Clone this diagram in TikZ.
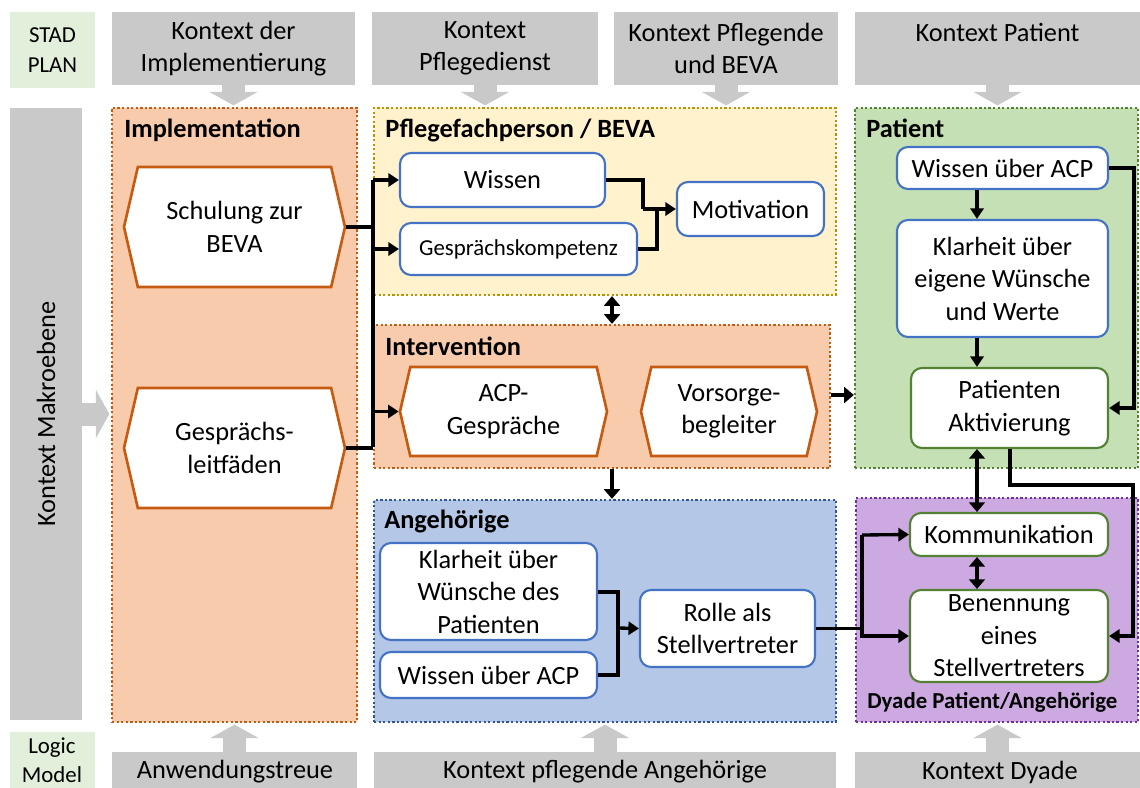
\documentclass[tikz,border=0pt]{standalone}
\usepackage{fontspec}
\setmainfont{Carlito}
\usepackage{xcolor}
\definecolor{GrayBox}{HTML}{C9C9C9}
\definecolor{StadGreen}{HTML}{E2EFDA}
\definecolor{ImplFill}{HTML}{F8CBAD}
\definecolor{ImplLine}{HTML}{C55A11}
\definecolor{PflegeFill}{HTML}{FFF2CC}
\definecolor{PflegeLine}{HTML}{BF9000}
\definecolor{PatFill}{HTML}{C5E0B4}
\definecolor{PatLine}{HTML}{548235}
\definecolor{AngFill}{HTML}{B4C7E7}
\definecolor{AngLine}{HTML}{2F5597}
\definecolor{DyFill}{HTML}{CDA9E2}
\definecolor{DyLine}{HTML}{7030A0}
\definecolor{BoxBlue}{HTML}{4472C4}
\usetikzlibrary{arrows.meta,fit,shapes.symbols}
\tikzset{>=latex}
\tikzset{wh/.style 2 args={minimum width=#1*0.02cm,minimum height=#2*0.02cm}}

\begin{document}
\begin{tikzpicture}[x=0.02cm,y=-0.02cm,
	txt/.style={font=\fontsize{15}{18.5}\selectfont,align=center},
	graybox/.style={fill=GrayBox,inner sep=0,txt},
	grp/.style={draw=#1Line,fill=#1Fill,line width=1.3pt,dash pattern=on 1.3pt off 1.3pt,inner sep=0},
	grptitle/.style={font=\fontsize{15}{17}\selectfont\bfseries,anchor=base west,inner sep=0},
	bbox/.style={draw=BoxBlue,fill=white,line width=1.2pt,rounded corners=0.22cm,inner sep=0,txt},
	gbox/.style={bbox,draw=PatLine},
	hexa/.style={shape=signal,signal to=west and east,signal pointer angle=154,draw=ImplLine,fill=white,line width=1.5pt,inner sep=0,txt},
	line/.style={line width=1.9pt},
	conn/.style={line,-{Triangle[length=6pt,width=7.5pt]}},
	dbl/.style={line width=2.6pt,{Triangle[length=5.5pt,width=9pt]}-{Triangle[length=5.5pt,width=9pt]}},
	bigarr/.style={line width=2.6pt,-{Triangle[length=5.5pt,width=9pt]}},
	grayarr/.style={draw=GrayBox,line width=0.46cm,shorten >=0.03cm,-{Triangle[length=0.27cm,width=0.96cm]}}]
	
	\useasboundingbox (0,0) rectangle (1140,788);
	
	%% RANDSPALTE
	\node[fill=StadGreen,inner sep=0,wh={85}{76},font=\fontsize{13}{17}\selectfont,align=center] (stad) at (52.5,50) {STAD\\PLAN};
	\node[graybox,fit={(10,108)(82,720)}] (makro) {};
	\node[txt,rotate=90] (tmakro) at (makro.center) {Kontext Makroebene};
	\node[fill=StadGreen,inner sep=0,fit={(10,732)(95,800)}] (logic) {};
	\node[font=\fontsize{13}{16.5}\selectfont,align=center] (tlogic) at (52,760) {Logic\\Model};
	
	%% KONTEXT OBEN
	\node[graybox,wh={243}{73}] (kimpl) at (233.5,48.5) {Kontext der\\Implementierung};
	\node[graybox,wh={226}{73}] (kpflege) at (485,48.5) {Kontext\\Pflegedienst};
	\node[graybox,wh={224}{73}] (kbeva) at (726,48.5) {Kontext Pflegende\\und BEVA};
	\node[graybox,wh={285}{73}] (kpat) at (997.5,48.5) {Kontext Patient\\\mbox{}};
	
	%% KONTEXT UNTEN
	\node[graybox,fit={(112,752)(357,800)}] (kanw) {};
	\node[graybox,fit={(374,752)(836,800)}] (kang) {};
	\node[graybox,fit={(855,752)(1140,800)}] (kdy) {};
	\node[txt] (tanw) at (235,772) {Anwendungstreue};
	\node[txt] (tang) at (605,772) {Kontext pflegende Angehörige};
	\node[txt] (tdy) at (1000,772) {Kontext Dyade};
	
	%% GRUPPEN
	\node[grp=Impl,fit={(112,108)(357,722)}] (impl) {};
	\node[grp=Pflege,fit={(374,108)(836,295)}] (pflege) {};
	\node[grp=Impl,fit={(374,325)(830,468)}] (interv) {};
	\node[grp=Ang,fit={(374,500)(836,722)}] (angeh) {};
	\node[grp=Pat,fit={(855,108)(1138,468)}] (patient) {};
	\node[grp=Dy,fit={(856,498)(1138,722)}] (dyade) {};
	
	\node[grptitle] (timpl) at (124,137) {Implementation};
	\node[grptitle] (tpflege) at (385,137) {Pflegefachperson / BEVA};
	\node[grptitle] (tinterv) at (385,355) {Intervention};
	\node[grptitle] (tangeh) at (384,528) {Angehörige};
	\node[grptitle] (tpatient) at (866,137) {Patient};
	\node[grptitle,font=\fontsize{13}{15}\selectfont\bfseries] (tdyade) at (867,708) {Dyade Patient/Angehörige};
	
	%% KNOTEN
	\node[hexa,wh={221}{120}] (schulung) at (234.5,227) {Schulung zur\\BEVA};
	\node[hexa,wh={221}{120}] (leitfaden) at (234.5,448) {Gesprächs-\\leitfäden};
	
	\node[bbox,wh={205}{54}] (wissen) at (502.5,180) {Wissen};
	\node[bbox,wh={237}{52},font=\fontsize{13}{16}\selectfont] (komp) at (518.5,249) {Gesprächskompetenz};
	\node[bbox,wh={147}{54}] (motiv) at (750.5,209) {Motivation};
	
	\node[hexa,wh={207}{89}] (acp) at (503.5,411.5) {ACP-\\Gespräche};
	\node[hexa,wh={176}{89}] (vorsorge) at (729,411.5) {Vorsorge-\\begleiter};
	
	\node[bbox,wh={217}{97}] (klarA) at (488.5,591.5) {Klarheit über\\Wünsche des\\Patienten};
	\node[bbox,wh={217}{46}] (wissenA) at (488.5,675) {Wissen über ACP};
	\node[bbox,wh={175}{77}] (rolle) at (727.5,628.5) {Rolle als\\Stellvertreter};
	
	\node[bbox,wh={211}{42}] (wissenP) at (1002.5,168) {Wissen über ACP};
	\node[bbox,wh={211}{117}] (klarP) at (1002.5,278.5) {Klarheit über\\eigene Wünsche\\und Werte};
	\node[gbox,wh={197}{80}] (aktiv) at (1009.5,408) {Patienten\\Aktivierung};
	
	\node[gbox,wh={198}{43}] (komm) at (1009,534.5) {Kommunikation};
	\node[gbox,wh={198}{92}] (benenn) at (1009,636) {Benennung\\eines\\Stellvertreters};
	
	%% HILFSKOORDINATEN
	\coordinate (cMid) at (612,0);
	\coordinate (cP) at (977,0);
	\coordinate (rowI) at (0,395);
	\coordinate (busT) at (373,180);
	\coordinate (busB) at (373,447);
	\coordinate (mj1) at (643,209);
	\coordinate (mj2) at (657,209);
	\coordinate (aj) at (618,628);
	\coordinate (dj) at (862,535);
	
	%% GRAUE PFEILE
	\draw[grayarr] (kimpl.south) -- (kimpl.south |- impl.north);
	\draw[grayarr] (kpflege.south) -- (kpflege.south |- pflege.north);
	\draw[grayarr] (kbeva.south) -- (kbeva.south |- pflege.north);
	\draw[grayarr] (kpat.south) -- (kpat.south |- patient.north);
	\draw[grayarr] (makro.east) -- (makro.east -| impl.west);
	\draw[grayarr] (kanw.north) -- (kanw.north |- impl.south);
	\draw[grayarr] (kang.north) -- (kang.north |- angeh.south);
	\draw[grayarr] (kdy.north) -- (kdy.north |- dyade.south);
	
	%% IMPLEMENTATION
	\draw[line] (schulung.east) -- (schulung.east -| busT);
	\draw[line] (leitfaden.east) -- (leitfaden.east -| busT);
	\draw[line] (busT) -- (busB);
	\draw[conn] (busT) -- (wissen.west);
	\draw[conn] (busT |- komp.west) -- (komp.west);
	\draw[conn] (busT |- acp.west) -- (acp.west);
	
	%% PFLEGEFACHPERSON
	\draw[line] (wissen.east) -| (mj1);
	\draw[line] (komp.east) -| (mj2);
	\draw[conn] (mj1) -- (motiv.west);
	
	%% ZWISCHEN DEN GRUPPEN
	\draw[dbl] (pflege.south -| cMid) -- (interv.north -| cMid);
	\draw[bigarr] (interv.south -| cMid) -- (angeh.north -| cMid);
	\draw[bigarr] (interv.east |- rowI) -- (patient.west |- rowI);
	
	%% ANGEHOERIGE
	\draw[line] (klarA.east |- 0,592) -| (aj);
	\draw[line] (wissenA.east) -| (aj);
	\draw[conn] (aj) -- (rolle.west);
	\draw[line] (rolle.east) -- (rolle.east -| dj);
	\draw[conn] (dj) -- (komm.west);
	\draw[conn] (dj) |- (benenn.west);
	
	%% PATIENT
	\draw[conn] (wissenP.south -| cP) -- (klarP.north -| cP);
	\draw[conn] (klarP.south -| cP) -- (aktiv.north -| cP);
	\draw[conn] (wissenP.east) -- ++(25,0) |- (aktiv.east);
	\draw[dbl] (aktiv.south -| cP) -- (komm.north -| cP);
	\draw[conn] (aktiv.south -| 1010,0) |- (1133,485) |- (benenn.east);
	
	%% DYADE
	\draw[dbl] (komm.south -| cP) -- (benenn.north -| cP);
	
\end{tikzpicture}
\end{document}
